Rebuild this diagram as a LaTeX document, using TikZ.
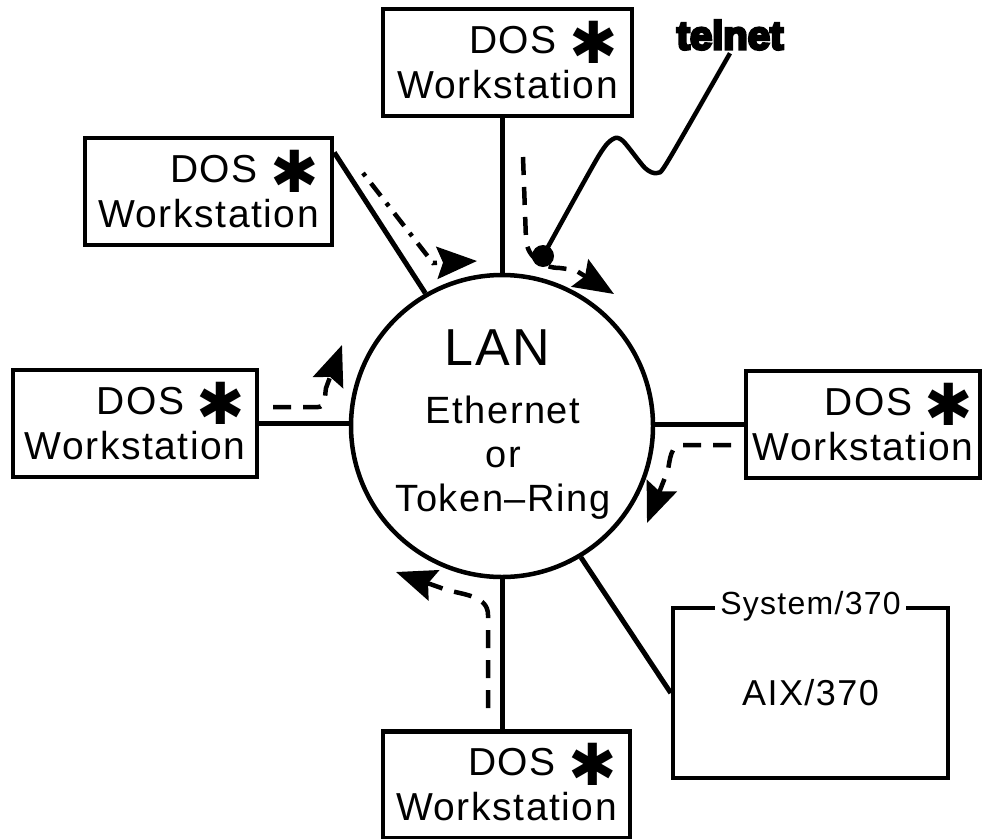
\documentclass[tikz,border=0pt]{standalone}
\usepackage{fontspec}
\setmainfont{Liberation Sans}[LetterSpace=4]
\newfontfamily\symfont{DejaVu Sans}
\newfontfamily\telnetfont{Liberation Sans Bold}[FakeBold=7]
\usepackage{tikz}
\usetikzlibrary{arrows.meta,calc}

\newcommand{\dosline}{DOS \smash{\raisebox{-10pt}{\symfont\fontsize{58}{58}\selectfont ✱}}\hspace{10pt}}

\begin{document}
\begin{tikzpicture}[x=1pt, y=-1pt,
  wsbox/.style={draw, line width=4.5pt, minimum height=107pt, align=right,
                inner sep=0pt, font=\fontsize{39}{45}\selectfont},
  lanring/.style={circle, draw, line width=4.5pt, minimum size=302pt, inner sep=0pt},
  link/.style={line width=5pt},
  flow/.style={line width=4.5pt, dash pattern=on 18pt off 12pt,
               -{Stealth[length=40pt, width=32pt, inset=6pt]}},
  dotflow/.style={flow, dash pattern=on 4pt off 9pt on 16pt off 9pt}]
\useasboundingbox (0,0) rectangle (984,838);

% ===== LAN ring =====
\node[lanring] (lan) at (502,426) {};
\node[font=\fontsize{52}{52}\selectfont] (lantitle) at (497,348) {LAN};
\node[align=center, font=\fontsize{38}{44}\selectfont] (medium) at (503,458)
  {Ethernet\\or\\Token–Ring};

% ===== DOS workstations =====
\foreach \nm/\px/\py/\bw in {topws/507.5/62.5/249, ulws/208.5/191.5/247,
    leftws/135/423.5/244, rightws/863/424.5/234, botws/506.5/785/247}
  \node[wsbox, minimum width=\bw pt] (\nm) at (\px,\py) {\dosline\\Workstation};

% ===== System/370 =====
\node[draw, line width=4.5pt, minimum width=275pt, minimum height=170pt,
      font=\fontsize{36}{36}\selectfont] (sysbox) at (810.5,693) {AIX/370};
\node[fill=white, inner xsep=5pt, inner ysep=1pt,
      font=\fontsize{32}{32}\selectfont] (syslabel) at (sysbox.north) {System/370};

% Links to the ring
\draw[link] (lan.north |- topws.south) -- (lan.north);
\draw[link] ($(ulws.north east)!0.15!(ulws.south east)$) -- (lan.120);
\draw[link] (leftws.east) -- (leftws.east -| lan.west);
\draw[link] (rightws.west) -- (rightws.west -| lan.east);
\draw[link] (lan.south) -- (lan.south |- botws.north);
\draw[link] (lan.-59) -- (sysbox.west);

% ===== telnet =====
\node[font=\telnetfont\fontsize{40}{40}\selectfont] (telnet) at (730,35) {telnet};
\node[circle, fill, minimum size=22pt, inner sep=0pt] (tdot) at (543,256) {};
\draw[line width=4.5pt, line join=round] plot[smooth, tension=0.45] coordinates
  {(tdot) (598,157) (613,139) (623,141) (645,168) (657,173) (668,161) (telnet.south)};

% Traffic flows
\draw[dotflow] (363,173) -- (433,263) -- (477,261);
\draw[flow] (523,157) -- (526,240) to[out=-85,in=180] (560,268) -- (575,270) -- (614,294);
\draw[flow] (273,407) -- (318,407) to[out=0,in=-100] (326,388) -- (342,345);
\draw[flow] (731,445) -- (682,445) to[out=180,in=80] (668,470) -- (647,523);
\draw[flow] (488,708) -- (488,615) to[out=90,in=-15] (447,590) -- (396,572);

\end{tikzpicture}
\end{document}
